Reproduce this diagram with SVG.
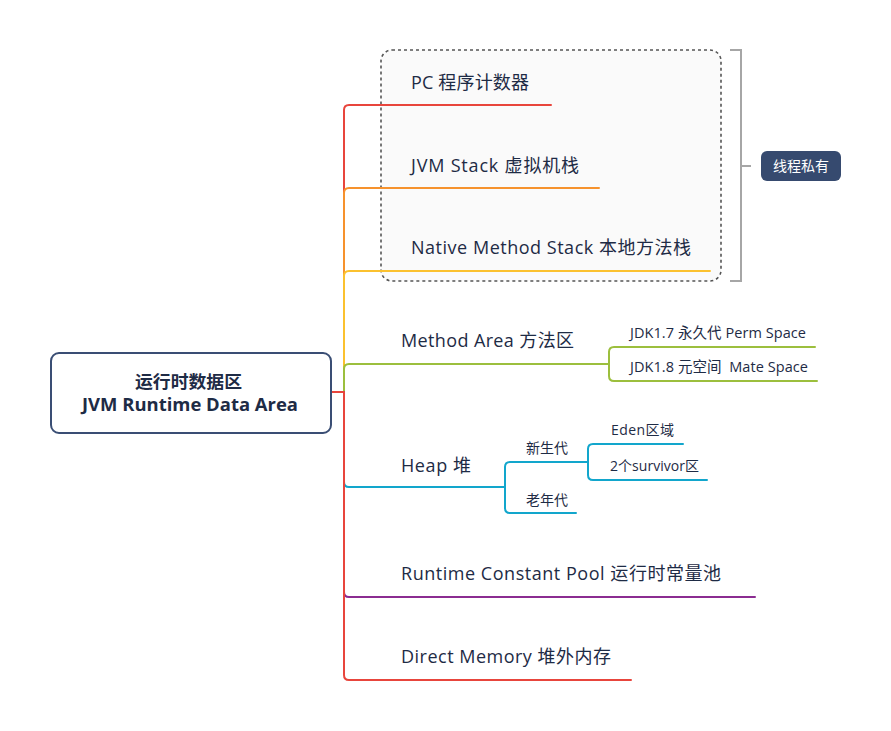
<svg xmlns="http://www.w3.org/2000/svg" width="891" height="731" viewBox="0 0 891 731">
<style>
.t{font-family:"Open Sans","Noto Sans CJK SC",sans-serif;fill:#1e2b45}
.m{font-size:18px}
.s{font-size:14.5px}
.xs{font-size:14px}
.c{fill:none;stroke-width:2;stroke-linecap:round;stroke-linejoin:round}
</style>
<rect width="891" height="731" fill="#ffffff"/>
<g id="private-box">
<rect x="381" y="50" width="340" height="231" rx="11" fill="#fafafa" stroke="#555" stroke-width="1.6" stroke-dasharray="3,3"/>
</g>
<g id="connectors">
<path class="c" stroke="#e8453c" d="M331 392H344V110Q344 105 349 105H551"/>
<path class="c" stroke="#f6922d" d="M344 392V193Q344 188 349 188H599"/>
<path class="c" stroke="#fbc12f" d="M344 392V276Q344 271 349 271H710"/>
<path class="c" stroke="#9cbf3d" d="M344 392V369Q344 364 349 364H609"/>
<path class="c" stroke="#9cbf3d" d="M609 364V352Q609 347 614 347H815M609 364V376Q609 381 614 381H817"/>
<path class="c" stroke="#12a6cc" d="M344 392V482Q344 487 349 487H505"/>
<path class="c" stroke="#12a6cc" d="M505 487V467Q505 462 510 462H588M505 487V508Q505 513 510 513H576"/>
<path class="c" stroke="#12a6cc" d="M588 462V449Q588 444 593 444H683M588 462V475Q588 480 593 480H707"/>
<path class="c" stroke="#8b2c91" d="M344 392V592Q344 597 349 597H755"/>
<path class="c" stroke="#e8453c" d="M331 392H344V675Q344 680 349 680H631"/>
<path fill="none" stroke="#a6a6a6" stroke-width="2" d="M730 50H741V281H730M741 166H751"/>
</g>
<g id="root">
<rect x="51" y="353" width="280" height="80" rx="8" fill="#fff" stroke="#3a4e74" stroke-width="2"/>
<text class="t" x="135" y="388" font-size="17.5" font-weight="bold" fill="#111" textLength="107" lengthAdjust="spacingAndGlyphs">运行时数据区</text>
<text class="t" x="82" y="411" font-size="17" font-weight="bold" fill="#111" textLength="216" lengthAdjust="spacingAndGlyphs">JVM Runtime Data Area</text>
</g>
<g id="pc"><text class="t m" x="411" y="89" textLength="118">PC 程序计数器</text></g>
<g id="jvm-stack"><text class="t m" x="411" y="172" textLength="168">JVM Stack 虚拟机栈</text></g>
<g id="native-stack"><text class="t m" x="411" y="254" textLength="280">Native Method Stack 本地方法栈</text></g>
<g id="method-area"><text class="t m" x="401" y="347" textLength="173">Method Area 方法区</text></g>
<g id="jdk17"><text class="t s" x="630" y="338" textLength="176">JDK1.7 永久代 Perm Space</text></g>
<g id="jdk18"><text class="t s" x="630" y="372" xml:space="preserve" textLength="178">JDK1.8 元空间  Mate Space</text></g>
<g id="heap"><text class="t m" x="401" y="472" textLength="70">Heap 堆</text></g>
<g id="young"><text class="t xs" x="526" y="453" textLength="42">新生代</text></g>
<g id="old"><text class="t xs" x="526" y="505" textLength="42">老年代</text></g>
<g id="eden"><text class="t xs" x="611" y="435" textLength="63">Eden区域</text></g>
<g id="survivor"><text class="t xs" x="610" y="471" textLength="89">2个survivor区</text></g>
<g id="runtime-pool"><text class="t m" x="401" y="580" textLength="320">Runtime Constant Pool 运行时常量池</text></g>
<g id="direct-memory"><text class="t m" x="401" y="663" textLength="210">Direct Memory 堆外内存</text></g>
<g id="thread-private">
<rect x="761" y="151" width="80" height="30" rx="6" fill="#364a6f"/>
<text x="801" y="171" font-family="'Open Sans','Noto Sans CJK SC',sans-serif" font-size="14" fill="#fff" text-anchor="middle">线程私有</text>
</g>
</svg>
